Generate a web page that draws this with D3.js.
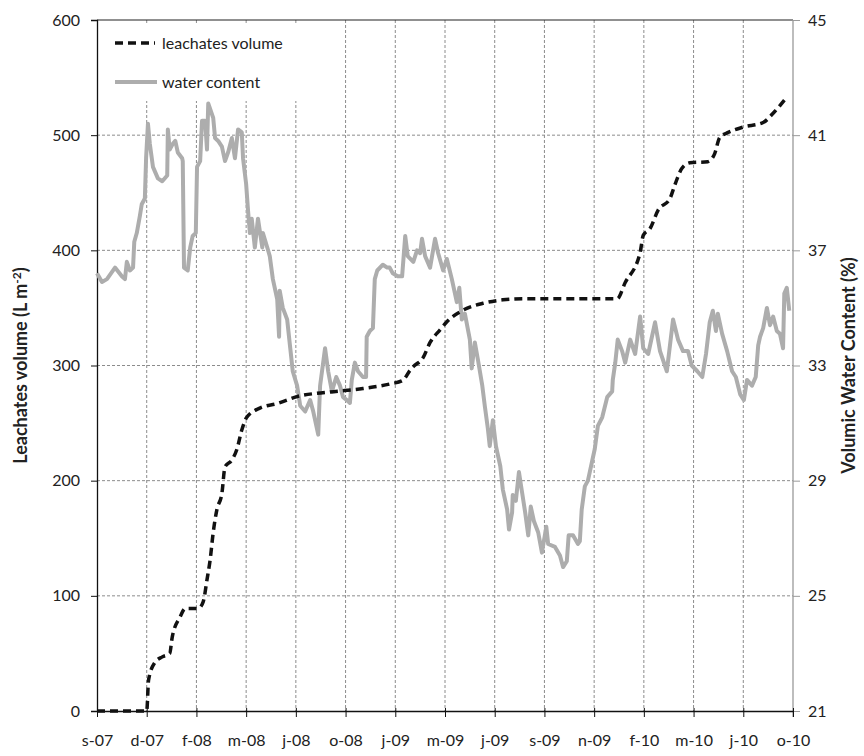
<!DOCTYPE html>
<html>
<head>
<meta charset="utf-8">
<script src="https://cdn.jsdelivr.net/npm/d3@7"></script>
<style>
  body { margin: 0; background: #fff; }
  text { font-family: Lato, "Open Sans", sans-serif; fill: #222; }
</style>
</head>
<body>
<script>
// x axis: days since mid-September 2007, one tick every 80 days
const tickDays = [0, 80, 160, 240, 320, 400, 480, 560, 640, 720, 800, 880, 960, 1040, 1120]
const tickLabels = ['s-07', 'd-07', 'f-08', 'm-08', 'j-08', 'o-08', 'j-09', 'm-09', 'j-09', 's-09', 'n-09', 'f-10', 'm-10', 'j-10', 'o-10']

// cumulative leachates volume (L m-2), left axis
const leachDays = [0, 80, 83, 93, 105, 117, 121, 134, 142, 163,
  171, 177, 182, 187, 193, 201, 206, 217, 225, 233,
  241, 262, 290, 322, 375, 428, 472, 492, 504, 509,
  525, 536, 552, 563, 589, 621, 653, 686, 837, 850,
  874, 879, 890, 903, 922, 930, 941, 954, 983, 994,
  1002, 1014, 1040, 1072, 1088, 1110]
const leachVol = [0, 0, 27, 42, 47, 50, 64, 82, 89, 89,
  95, 114, 131, 155, 175, 189, 212, 218, 227, 244,
  255, 263, 267, 273, 277, 280, 284, 287, 296, 299,
  307, 320, 331, 338, 348, 354, 357, 358, 358, 372,
  398, 413, 419, 435, 445, 457, 471, 476, 477, 484,
  498, 502, 507, 511, 519, 533]

// volumic water content (%), right axis
const waterDays = [0, 8, 16, 29, 40, 45, 48, 53, 58, 60,
  64, 69, 72, 77, 79, 82, 85, 90, 98, 105,
  113, 114, 117, 122, 126, 130, 137, 138, 140, 146,
  150, 154, 159, 161, 166, 169, 174, 177, 179, 187,
  190, 195, 201, 206, 211, 217, 222, 227, 233, 235,
  240, 243, 246, 249, 254, 259, 266, 267, 274, 278,
  283, 290, 293, 294, 299, 306, 311, 315, 322, 327,
  335, 343, 348, 356, 359, 367, 372, 378, 385, 391,
  396, 402, 407, 410, 415, 420, 428, 433, 434, 439,
  444, 447, 451, 460, 467, 471, 476, 484, 491, 496,
  500, 509, 515, 520, 523, 528, 536, 544, 549, 557,
  563, 571, 579, 583, 587, 592, 600, 603, 608, 613,
  620, 624, 629, 632, 637, 642, 649, 653, 660, 663,
  668, 669, 674, 679, 684, 689, 694, 698, 703, 710,
  716, 723, 726, 737, 745, 750, 756, 759, 766, 774,
  777, 780, 785, 790, 797, 801, 806, 813, 821, 829,
  830, 834, 838, 845, 850, 858, 866, 874, 879, 887,
  898, 906, 917, 927, 935, 943, 951, 957, 966, 974,
  980, 986, 991, 996, 999, 1006, 1014, 1022, 1028, 1035,
  1041, 1046, 1054, 1060, 1064, 1067, 1072, 1078, 1083, 1088,
  1094, 1099, 1104, 1106, 1110, 1114]
const waterVol = [36.2, 35.9, 36.0, 36.4, 36.1, 36.0, 36.6, 36.3, 36.4, 37.3,
  37.6, 38.2, 38.6, 38.8, 40.2, 41.4, 40.7, 39.9, 39.5, 39.4,
  39.6, 41.2, 40.5, 40.7, 40.8, 40.4, 40.2, 40.1, 36.4, 36.3,
  37.1, 37.5, 37.6, 39.9, 40.1, 41.5, 41.5, 40.5, 42.1, 41.6,
  40.9, 40.8, 40.6, 40.1, 40.4, 40.9, 40.2, 41.2, 41.1, 40.2,
  39.3, 38.4, 37.6, 38.1, 37.1, 38.1, 37.1, 37.6, 37.1, 36.8,
  36.0, 35.3, 34.0, 35.6, 35.0, 34.6, 33.6, 32.8, 32.3, 31.6,
  31.4, 31.8, 31.4, 30.6, 32.3, 33.6, 32.8, 32.1, 32.6, 32.3,
  31.9, 31.8, 31.7, 32.5, 33.1, 32.8, 32.6, 32.6, 34.0, 34.2,
  34.3, 36.0, 36.3, 36.5, 36.4, 36.4, 36.2, 36.1, 36.1, 37.5,
  36.8, 36.6, 37.0, 36.9, 37.4, 36.8, 36.4, 37.4, 36.9, 36.3,
  36.7, 36.0, 35.2, 35.7, 34.6, 34.8, 33.9, 32.9, 33.8, 33.2,
  32.3, 31.6, 30.8, 30.2, 31.1, 30.2, 29.5, 28.7, 28.0, 27.3,
  27.9, 28.5, 28.3, 29.3, 28.6, 27.9, 27.1, 28.1, 27.6, 27.2,
  26.5, 27.4, 26.8, 26.7, 26.4, 26.0, 26.2, 27.1, 27.1, 26.8,
  26.9, 28.0, 28.8, 29.0, 29.7, 30.1, 30.9, 31.2, 31.9, 32.1,
  32.5, 33.1, 33.9, 33.5, 33.1, 33.9, 33.4, 34.7, 33.6, 33.4,
  34.5, 33.5, 32.8, 34.6, 33.9, 33.5, 33.5, 33.0, 32.8, 32.6,
  33.4, 34.5, 34.9, 34.2, 34.8, 34.1, 33.5, 32.8, 32.6, 32.0,
  31.8, 32.5, 32.3, 32.6, 33.7, 34.0, 34.3, 35.0, 34.4, 34.7,
  34.2, 34.1, 33.6, 35.5, 35.7, 34.9]

const leftTicks = [0, 100, 200, 300, 400, 500, 600]
const rightTicks = [21, 25, 29, 33, 37, 41, 45]

const width = 864
const height = 756
const margin = { top: 20, right: 71, bottom: 45, left: 97 }
const innerW = width - margin.left - margin.right
const innerH = height - margin.top - margin.bottom

const svg = d3.select('body')
  .append('svg')
  .attr('width', width)
  .attr('height', height)

const g = svg.append('g')
  .attr('transform', `translate(${margin.left},${margin.top})`)

const x = d3.scaleLinear().domain([0, 1120]).range([0, innerW])
const yL = d3.scaleLinear().domain([0, 600]).range([innerH, 0])
const yR = d3.scaleLinear().domain([21, 45]).range([innerH, 0])

// grid
g.append('g')
  .attr('class', 'grid')
  .selectAll('line.h')
  .data(leftTicks.slice(1, -1))
  .enter()
  .append('line')
  .attr('x1', 0)
  .attr('x2', innerW)
  .attr('y1', d => yL(d))
  .attr('y2', d => yL(d))
  .attr('stroke', '#8c8c8c')
  .attr('stroke-dasharray', '3,2')

g.append('g')
  .attr('class', 'grid')
  .selectAll('line.v')
  .data(tickDays.slice(1, -1))
  .enter()
  .append('line')
  .attr('x1', d => x(d))
  .attr('x2', d => x(d))
  .attr('y1', 0)
  .attr('y2', innerH)
  .attr('stroke', '#8c8c8c')
  .attr('stroke-dasharray', '3,2')

// top border
g.append('line')
  .attr('x1', 0).attr('x2', innerW)
  .attr('y1', 0).attr('y2', 0)
  .attr('stroke', '#222')
  .attr('stroke-width', 1.2)

// axes
const axisL = g.append('g')
  .call(d3.axisLeft(yL).tickValues(leftTicks).tickSize(6).tickPadding(11))
axisL.select('.domain').attr('stroke', '#111').attr('stroke-width', 1.3)
axisL.selectAll('.tick line').attr('stroke', '#111')

const axisR = g.append('g')
  .attr('transform', `translate(${innerW},0)`)
  .call(d3.axisRight(yR).tickValues(rightTicks).tickSize(7).tickPadding(8).tickSizeOuter(0))
axisR.select('.domain').attr('stroke', '#9a9a9a').attr('stroke-width', 1.3)
  .attr('d', `M0,0V${innerH + 6}`)
axisR.selectAll('.tick line').attr('stroke', '#9a9a9a')

const axisB = g.append('g')
  .attr('transform', `translate(0,${innerH})`)
  .call(d3.axisBottom(x).tickValues(tickDays).tickFormat((d, i) => tickLabels[i]).tickSize(6).tickPadding(18).tickSizeOuter(0))
axisB.select('.domain').attr('stroke', '#111').attr('stroke-width', 1.3)
axisB.selectAll('.tick line').attr('stroke', '#111').attr('y1', -3)

svg.selectAll('.tick text')
  .style('font-family', 'Lato, "Open Sans", sans-serif')
  .style('font-size', '16px')
  .attr('fill', '#222')

// series
const waterLine = d3.line()
  .x((d, i) => x(waterDays[i]))
  .y(d => yR(d))

const leachLine = d3.line()
  .x((d, i) => x(leachDays[i]))
  .y(d => yL(d))
  .curve(d3.curveMonotoneX)

g.append('path')
  .datum(waterVol)
  .attr('d', waterLine)
  .attr('fill', 'none')
  .attr('stroke', '#adadad')
  .attr('stroke-width', 4)
  .attr('stroke-linejoin', 'round')

g.append('path')
  .datum(leachVol)
  .attr('d', leachLine)
  .attr('fill', 'none')
  .attr('stroke', '#111')
  .attr('stroke-width', 3.5)
  .attr('stroke-dasharray', '8,5')

// legend
const legend = g.append('g')
legend.append('rect')
  .attr('x', 3).attr('y', 3)
  .attr('width', 235).attr('height', 78)
  .attr('fill', '#fff')

legend.append('line')
  .attr('x1', 18).attr('x2', 58)
  .attr('y1', 23).attr('y2', 23)
  .attr('stroke', '#111')
  .attr('stroke-width', 3.5)
  .attr('stroke-dasharray', '8,5')
legend.append('text')
  .attr('x', 65).attr('y', 29)
  .style('font-size', '16px')
  .text('leachates volume')

legend.append('line')
  .attr('x1', 18).attr('x2', 60)
  .attr('y1', 62).attr('y2', 62)
  .attr('stroke', '#adadad')
  .attr('stroke-width', 4)
legend.append('text')
  .attr('x', 65).attr('y', 68)
  .style('font-size', '16px')
  .text('water content')

// axis titles
const titleL = svg.append('text')
  .attr('transform', `translate(27,${margin.top + innerH / 2}) rotate(-90)`)
  .attr('text-anchor', 'middle')
  .style('font-size', '18px')
  .style('font-weight', 'bold')
titleL.append('tspan').text('Leachates volume (L m')
titleL.append('tspan').attr('dy', -6).style('font-size', '12px').text('-2')
titleL.append('tspan').attr('dy', 6).text(')')

svg.append('text')
  .attr('transform', `translate(855,${margin.top + innerH / 2}) rotate(-90)`)
  .attr('text-anchor', 'middle')
  .style('font-size', '18px')
  .style('font-weight', 'bold')
  .text('Volumic Water Content (%)')
</script>
</body>
</html>
